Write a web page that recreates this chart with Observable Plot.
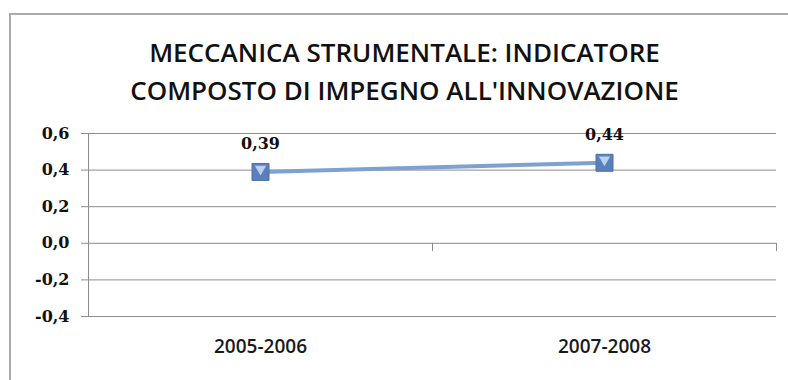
<!DOCTYPE html>
<html>
<head>
<meta charset="utf-8">
<script src="https://cdn.jsdelivr.net/npm/d3@7"></script>
<script src="https://cdn.jsdelivr.net/npm/@observablehq/plot@0.6"></script>
<style>
  html, body { margin: 0; padding: 0; background: #fff; }
  #chart { position: relative; width: 788px; height: 380px; overflow: hidden; }
  #chart .border {
    position: absolute; left: 9px; top: 13px; right: -4px; bottom: -4px;
    border-top: 2px solid #ababab; border-left: 2px solid #ababab;
  }
  #chart svg { position: absolute; left: 0; top: 0; }
</style>
</head>
<body>
<div id="chart"><div class="border"></div></div>
<script>
// Composite innovation-commitment indicator, machine tools sector
const periods = ["2005-2006", "2007-2008"];
const indicator = [0.39, 0.44];
const yTicks = [-0.4, -0.2, 0.0, 0.2, 0.4, 0.6];
const titleLines = ["MECCANICA STRUMENTALE: INDICATORE", "COMPOSTO DI IMPEGNO ALL'INNOVAZIONE"];

// each period sits in the middle of its own slot on a linear x scale
const rows = periods.map((period, i) => ({period, pos: i + 0.5, value: indicator[i]}));
const slotEdges = d3.range(periods.length + 1);

const comma = (v, digits) => {
  const s = Math.abs(v).toFixed(digits).replace(".", ",");
  return (v < 0 && Math.abs(v) > 1e-9 ? "-" : "") + s;
};

const gridColor = "#8c8c8c";
const lineColor = "#7ea1d2";
const tickFont = "DejaVu Serif";
const catFont = "Open Sans";

const chart = Plot.plot({
  width: 788,
  height: 380,
  marginLeft: 88,
  marginRight: 12,
  marginTop: 133,
  marginBottom: 64,
  style: {background: "transparent", color: "#111"},
  x: {domain: [0, periods.length], axis: null},
  y: {domain: [-0.4, 0.6], axis: null},
  marks: [
    // horizontal gridlines
    Plot.ruleY(yTicks, {stroke: gridColor, strokeWidth: 1}),
    // vertical value axis
    Plot.ruleX([0], {y1: -0.4, y2: 0.6, stroke: gridColor}),
    Plot.axisY({
      ticks: yTicks,
      label: null,
      tickSize: 7,
      tickPadding: 12,
      tickFormat: d => comma(d, 1),
      stroke: gridColor,
      fill: "#111",
      fontFamily: tickFont,
      fontSize: 16,
      fontWeight: "bold"
    }),
    // category axis runs along zero, with ticks on the slot edges
    Plot.ruleX(slotEdges, {y1: 0, y2: -0.045, stroke: gridColor}),
    Plot.text(rows, {
      x: "pos",
      text: "period",
      frameAnchor: "bottom",
      dy: 36,
      fontFamily: catFont,
      fontSize: 19,
      fontWeight: 600,
      fill: "#1a1a1a"
    }),
    // series
    Plot.line(rows, {x: "pos", y: "value", stroke: lineColor, strokeWidth: 4}),
    Plot.dot(rows, {
      x: "pos", y: "value", symbol: "square", r: 9.6,
      fill: "#5b80b9", stroke: "#4d71a7", strokeWidth: 1
    }),
    Plot.dot(rows, {
      x: "pos", y: "value", symbol: "triangle", r: 4.2, rotate: 180, dy: -3,
      fill: "#b9d0ef", stroke: "none"
    }),
    Plot.text(rows, {
      x: "pos", y: "value",
      text: d => comma(d.value, 2),
      dy: -28,
      fontFamily: tickFont,
      fontSize: 16,
      fontWeight: "bold",
      fill: "#111"
    }),
    // two-line title
    Plot.text([titleLines[0]], {
      frameAnchor: "top", dx: -28, dy: -90,
      fontFamily: catFont, fontSize: 26, fontWeight: 600, fill: "#111"
    }),
    Plot.text([titleLines[1]], {
      frameAnchor: "top", dx: -28, dy: -52,
      fontFamily: catFont, fontSize: 26, fontWeight: 600, fill: "#111"
    })
  ]
});

document.getElementById("chart").appendChild(chart);
</script>
</body>
</html>
